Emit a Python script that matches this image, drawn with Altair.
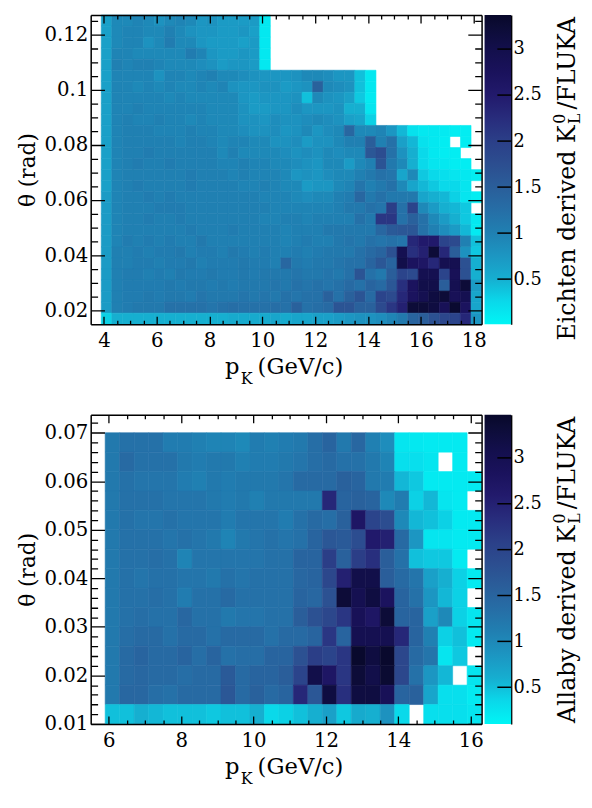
import altair as alt
import pandas as pd

FONT = "DejaVu Serif"

# colour palette (fraction of the z range -> colour)
PAL_FRAC = [0.0, 0.074, 0.148, 0.222, 0.296, 0.37, 0.444, 0.518, 0.592, 0.666, 0.74, 0.814, 0.888, 0.962, 1.0]
PAL_COLORS = ["#00f5f5", "#0ad8ea", "#16aed0", "#1c96c2", "#2080b2", "#266ea6", "#2a5e9a", "#2c4e90",
              "#2b3f88", "#282c7c", "#221a6c", "#1a125c", "#130f4c", "#0c0c36", "#08082a"]

# ---------------- top panel : Eichten derived K0L / FLUKA ----------------
TOP_X_EDGES = [3.9, 4.3, 4.7, 5.1, 5.5, 5.9, 6.3, 6.7, 7.1, 7.5, 7.9, 8.3, 8.7, 9.1, 9.5, 9.9, 10.3, 10.7,
               11.1, 11.5, 11.9, 12.3, 12.7, 13.1, 13.5, 13.9, 14.3, 14.7, 15.1, 15.5, 15.9, 16.3, 16.7,
               17.1, 17.5, 17.9, 18.3]
TOP_TH_EDGES = [0.127, 0.123, 0.119, 0.115, 0.111, 0.107, 0.103, 0.099, 0.095, 0.091, 0.087, 0.083,
                0.079, 0.075, 0.071, 0.067, 0.063, 0.059, 0.055, 0.051, 0.047, 0.043, 0.039, 0.035,
                0.031, 0.027, 0.023, 0.019, 0.015]
N = None
TOP_VALUES = [
    [0.65, 0.9, 0.9, 0.95, 0.9, 0.8, 0.9, 0.95, 0.9, 0.75, 0.8, 0.7, 0.7, 0.7, 0.7, 0.12],
    [0.65, 0.9, 0.95, 0.95, 0.9, 0.9, 1.0, 0.9, 0.8, 0.75, 0.75, 0.7, 0.7, 0.75, 0.65, 0.12],
    [0.65, 0.9, 0.95, 0.95, 0.8, 0.9, 1.05, 0.9, 0.9, 0.75, 0.7, 0.7, 0.7, 0.65, 0.7, 0.12],
    [0.65, 0.95, 0.95, 0.9, 0.9, 0.9, 0.9, 0.9, 1.05, 0.95, 0.75, 0.7, 0.7, 0.75, 0.7, 0.12],
    [0.65, 1.0, 0.95, 1.0, 1.0, 0.95, 0.9, 0.9, 0.9, 0.85, 0.8, 0.7, 0.75, 0.75, 0.7, 0.12],
    [0.65, 0.95, 0.95, 0.95, 0.95, 0.8, 0.95, 0.95, 0.9, 0.95, 1.0, 0.9, 0.9, 0.85, 0.8, 0.75, 0.75, 0.75, 0.8, 0.9, 0.9, 0.85, 0.75, 0.75, 0.4, 0.12],
    [0.65, 0.95, 0.95, 0.9, 0.95, 0.9, 0.95, 0.9, 0.9, 0.95, 0.9, 0.95, 0.8, 0.75, 0.75, 0.8, 0.8, 0.7, 0.75, 0.8, 1.45, 0.9, 0.85, 0.8, 0.4, 0.12],
    [0.65, 0.95, 0.95, 0.95, 0.95, 0.95, 0.9, 0.95, 0.9, 0.9, 0.9, 0.9, 0.9, 0.75, 0.7, 0.75, 0.75, 0.75, 0.8, 0.4, 0.9, 0.8, 0.75, 0.65, 0.35, 0.1],
    [0.65, 0.95, 0.95, 1.0, 0.95, 0.95, 0.95, 0.95, 0.95, 0.95, 0.9, 0.9, 0.9, 0.8, 0.7, 0.7, 0.75, 0.75, 0.85, 0.75, 0.75, 0.75, 0.8, 0.5, 0.5, 0.15],
    [0.65, 0.95, 1.0, 0.95, 0.95, 1.0, 0.95, 0.95, 0.9, 0.95, 0.9, 0.9, 0.9, 0.8, 0.8, 0.75, 0.85, 0.8, 0.8, 0.85, 0.9, 0.85, 0.8, 0.65, 0.6, 0.3],
    [0.65, 0.95, 1.0, 1.0, 1.0, 0.95, 0.95, 0.95, 1.0, 0.95, 0.95, 0.9, 0.9, 0.85, 0.8, 0.8, 0.85, 0.75, 0.8, 0.9, 0.75, 0.85, 0.9, 1.35, 0.9, 0.9, 0.95, 0.75, 0.45, 0.18, 0.12, 0.12, 0.1, 0.08, 0.08, N],
    [0.65, 0.95, 1.0, 1.0, 1.0, 1.0, 1.0, 0.95, 1.0, 1.0, 0.95, 0.9, 0.95, 0.95, 0.9, 0.9, 0.8, 0.8, 0.85, 0.7, 0.8, 0.8, 0.9, 1.0, 1.0, 1.5, 1.0, 1.2, 0.65, 0.45, 0.18, 0.12, 0.08, N, 0.08, N],
    [0.65, 0.95, 1.0, 1.0, 1.05, 1.0, 1.0, 1.0, 1.0, 1.0, 1.0, 0.9, 1.0, 0.9, 0.9, 0.9, 0.9, 0.85, 0.8, 0.85, 0.8, 0.9, 0.85, 0.9, 0.9, 1.6, 1.75, 1.2, 0.8, 0.5, 0.25, 0.12, 0.08, 0.08, N, N],
    [0.65, 0.95, 1.0, 1.05, 1.0, 1.0, 1.05, 1.0, 1.0, 1.0, 1.0, 0.95, 0.95, 1.0, 0.95, 0.95, 0.9, 0.9, 0.85, 0.8, 0.75, 0.9, 0.9, 0.7, 0.9, 1.0, 1.65, 1.1, 0.9, 0.5, 0.25, 0.15, 0.12, 0.08, 0.08, N],
    [0.65, 0.95, 1.0, 1.0, 1.0, 1.0, 1.0, 1.0, 1.05, 1.0, 1.0, 1.0, 0.95, 1.0, 0.95, 0.95, 0.95, 0.9, 0.75, 0.8, 0.75, 0.85, 0.9, 0.9, 1.0, 1.1, 1.2, 1.15, 0.6, 0.9, 0.35, 0.25, 0.2, 0.15, 0.12, 0.08],
    [0.65, 0.95, 1.0, 1.05, 1.0, 1.0, 1.0, 1.0, 1.05, 1.0, 1.0, 1.0, 1.0, 0.95, 0.95, 1.0, 0.95, 0.9, 0.9, 0.7, 0.75, 0.75, 0.9, 0.95, 1.15, 1.0, 1.1, 1.2, 0.9, 0.6, 0.45, 0.35, 0.25, 0.25, 0.15, N],
    [0.7, 0.95, 1.0, 1.0, 1.05, 1.0, 1.05, 1.0, 1.0, 1.0, 1.0, 1.0, 1.0, 1.0, 1.0, 0.95, 0.95, 0.95, 0.9, 0.85, 0.9, 0.9, 1.0, 1.05, 1.35, 1.1, 1.2, 1.1, 1.1, 1.1, 0.6, 0.5, 0.45, 0.3, 0.15, 0.08],
    [0.7, 0.95, 1.0, 1.0, 1.0, 1.05, 1.05, 1.05, 1.0, 1.0, 1.0, 1.0, 1.0, 1.0, 1.0, 1.0, 0.95, 0.95, 0.95, 0.95, 0.95, 0.95, 1.0, 1.1, 1.1, 1.2, 1.15, 2.0, 1.2, 1.9, 0.9, 0.7, 0.5, 0.45, 0.35, N],
    [0.7, 0.95, 1.0, 1.0, 1.05, 1.0, 1.0, 1.05, 1.0, 1.0, 1.0, 1.0, 1.0, 1.0, 1.0, 0.95, 0.95, 1.0, 1.0, 0.95, 1.0, 1.0, 1.0, 1.0, 1.2, 1.1, 2.1, 2.1, 1.2, 1.45, 1.2, 0.9, 0.7, 0.5, 0.35, 0.12],
    [0.7, 0.95, 1.0, 1.0, 1.0, 1.0, 1.0, 1.0, 1.05, 1.0, 1.0, 1.0, 1.05, 1.0, 1.0, 1.0, 1.0, 0.95, 1.0, 1.0, 1.0, 1.1, 1.1, 1.1, 1.1, 1.1, 1.35, 1.55, 1.6, 1.6, 1.2, 1.0, 0.85, 0.7, 0.45, 0.1],
    [0.7, 0.95, 1.05, 1.0, 1.05, 1.0, 1.05, 1.0, 1.0, 1.1, 1.0, 1.0, 1.0, 1.0, 1.0, 1.0, 1.0, 0.95, 1.0, 1.05, 1.0, 1.0, 1.1, 1.15, 1.1, 1.2, 1.15, 1.2, 1.15, 2.3, 2.5, 2.5, 1.9, 1.8, 1.0, 0.4],
    [0.7, 1.0, 1.0, 1.05, 1.0, 1.05, 1.05, 1.1, 1.0, 1.05, 1.05, 1.0, 1.1, 1.05, 1.0, 1.05, 1.0, 1.0, 1.05, 1.0, 1.05, 1.1, 1.1, 1.1, 1.2, 1.3, 1.4, 1.7, 2.9, 2.2, 2.4, 3.2, 2.3, 1.5, 0.8, 0.35],
    [0.7, 1.0, 1.0, 1.05, 1.05, 1.0, 1.05, 1.05, 1.1, 1.0, 1.05, 1.05, 1.05, 1.1, 1.05, 1.05, 1.0, 1.35, 1.1, 1.05, 1.1, 1.1, 1.15, 1.2, 1.2, 1.4, 1.6, 1.4, 3.0, 2.7, 2.6, 2.3, 2.9, 2.9, 1.7, 0.5],
    [0.7, 1.0, 1.05, 1.05, 1.0, 1.05, 1.0, 1.1, 1.05, 1.05, 1.1, 1.05, 1.05, 1.1, 1.05, 1.1, 1.1, 1.1, 1.15, 1.1, 1.1, 1.15, 1.1, 1.2, 1.65, 1.2, 1.1, 1.5, 1.9, 1.8, 2.9, 2.9, 1.9, 2.8, 1.7, 0.5],
    [0.7, 1.0, 1.05, 1.05, 1.05, 1.05, 1.1, 1.05, 1.1, 1.1, 1.05, 1.1, 1.05, 1.1, 1.1, 1.1, 1.15, 1.1, 1.2, 1.15, 1.2, 1.15, 1.2, 1.3, 1.2, 1.4, 1.3, 1.6, 2.2, 2.7, 3.0, 3.0, 1.5, 2.9, 3.2, 0.7],
    [0.7, 1.0, 1.05, 1.05, 1.1, 1.05, 1.1, 1.1, 1.05, 1.15, 1.1, 1.1, 1.1, 1.15, 1.1, 1.15, 1.1, 1.2, 1.15, 1.2, 1.2, 1.45, 1.2, 1.45, 1.65, 1.3, 1.9, 1.8, 2.3, 2.7, 2.9, 3.1, 3.2, 2.8, 2.9, 0.6],
    [0.7, 1.0, 1.05, 1.1, 1.1, 1.1, 1.2, 1.2, 1.2, 1.2, 1.15, 1.2, 1.25, 1.2, 1.2, 1.2, 1.25, 1.2, 1.45, 1.2, 1.25, 1.3, 1.65, 1.65, 1.45, 1.45, 1.8, 2.1, 2.4, 3.2, 3.2, 3.1, 2.8, 3.35, 2.7, 0.6],
    [0.3, 0.5, 0.5, 0.5, 0.5, 0.5, 0.5, 0.5, 0.5, 0.5, 0.5, 0.5, 0.55, 0.55, 0.55, 0.55, 0.6, 0.55, 0.6, 0.6, 0.65, 0.65, 0.7, 0.75, 0.8, 0.8, 0.85, 0.95, 1.1, 1.4, 1.5, 1.7, 1.85, 1.9, 2.3, 0.75],
]
TOP_X_DOMAIN = [3.5, 18.3]
TOP_Y_DOMAIN = [0.015, 0.127]
TOP_Z_RANGE = [0.01, 3.37]
TOP_X_MAJOR = [4, 6, 8, 10, 12, 14, 16, 18]
TOP_X_MINOR = [4.5, 5, 5.5, 6.5, 7, 7.5, 8.5, 9, 9.5, 10.5, 11, 11.5, 12.5, 13, 13.5, 14.5, 15, 15.5,
               16.5, 17, 17.5]
TOP_Y_MAJOR = [0.02, 0.04, 0.06, 0.08, 0.1, 0.12]
TOP_Y_MINOR = [0.025, 0.03, 0.035, 0.045, 0.05, 0.055, 0.065, 0.07, 0.075, 0.085, 0.09, 0.095,
               0.105, 0.11, 0.115, 0.125]

# ---------------- bottom panel : Allaby derived K0L / FLUKA ----------------
BOT_X_EDGES = [5.9, 6.3, 6.7, 7.1, 7.5, 7.9, 8.3, 8.7, 9.1, 9.5, 9.9, 10.3, 10.7, 11.1, 11.5, 11.9,
               12.3, 12.7, 13.1, 13.5, 13.9, 14.3, 14.7, 15.1, 15.5, 15.9, 16.3]
BOT_TH_EDGES = [0.070, 0.066, 0.062, 0.058, 0.054, 0.050, 0.046, 0.042, 0.038, 0.034, 0.030, 0.026,
                0.022, 0.018, 0.014, 0.010]
BOT_VALUES = [
    [1.1, 1.2, 1.2, 1.2, 1.05, 1.05, 1.0, 0.95, 0.95, 0.9, 1.05, 1.0, 1.05, 1.1, 1.25, 1.4, 1.1, 1.35, 1.0, 0.85, 0.15, 0.12, 0.1, 0.1, 0.1, N],
    [1.1, 1.3, 1.2, 1.2, 1.2, 1.1, 1.05, 1.1, 1.1, 1.0, 1.05, 1.05, 1.1, 1.15, 1.25, 1.3, 1.2, 1.2, 1.1, 0.95, 0.2, 0.2, 0.15, N, 0.1, N],
    [1.1, 1.2, 1.15, 1.15, 1.15, 1.05, 1.0, 1.1, 1.05, 1.1, 1.1, 1.1, 1.15, 1.3, 1.3, 1.3, 1.45, 1.4, 1.1, 1.05, 0.45, 0.35, 0.1, 0.1, 0.1, 0.1],
    [1.1, 1.2, 1.2, 1.2, 1.15, 1.15, 1.15, 1.1, 1.05, 1.1, 1.0, 1.1, 1.1, 1.1, 1.1, 2.3, 1.4, 1.45, 1.4, 0.9, 1.05, 0.3, 0.45, 0.15, 0.1, N],
    [1.1, 1.2, 1.15, 1.15, 1.2, 1.15, 1.15, 1.15, 1.05, 1.15, 1.15, 1.15, 1.05, 1.2, 1.3, 1.25, 1.45, 2.6, 1.9, 1.75, 0.9, 0.45, 0.4, 0.3, 0.1, 0.1],
    [1.1, 1.2, 1.2, 1.2, 1.15, 1.2, 1.15, 1.1, 0.95, 1.1, 1.15, 1.2, 1.15, 1.2, 1.4, 1.6, 1.55, 1.75, 2.5, 2.4, 1.3, 0.75, 0.15, 0.15, 0.1, 0.1],
    [1.1, 1.2, 1.2, 1.25, 1.2, 0.95, 1.15, 1.15, 1.15, 1.15, 1.15, 1.2, 1.2, 1.4, 1.4, 2.0, 1.45, 2.0, 2.2, 1.5, 1.2, 0.4, 0.35, 0.35, 0.1, N],
    [1.1, 1.2, 1.15, 1.2, 1.2, 1.15, 1.15, 1.1, 1.2, 1.15, 1.2, 1.2, 1.2, 1.35, 1.4, 1.85, 2.4, 3.0, 3.0, 1.5, 1.3, 1.15, 0.65, 0.5, 0.3, 0.1],
    [1.1, 1.2, 1.2, 1.25, 1.2, 1.05, 1.2, 1.2, 1.3, 1.2, 1.2, 1.2, 1.2, 1.4, 1.35, 1.7, 3.2, 2.9, 3.1, 2.7, 1.4, 1.2, 0.75, 0.45, 0.3, N],
    [1.1, 1.2, 1.25, 1.2, 1.2, 1.35, 1.2, 1.2, 1.1, 1.15, 1.15, 1.2, 1.2, 1.5, 1.7, 1.85, 2.1, 2.8, 2.6, 3.2, 1.4, 1.4, 0.65, 0.9, 0.3, 0.15],
    [1.1, 1.25, 1.3, 1.3, 1.2, 1.3, 1.3, 1.2, 1.3, 1.3, 1.3, 1.2, 1.3, 1.3, 1.4, 2.1, 1.4, 2.9, 2.9, 2.9, 2.3, 1.4, 1.0, 0.3, 0.4, 0.1],
    [1.1, 1.3, 1.4, 1.3, 1.3, 1.4, 1.25, 1.4, 1.2, 1.25, 1.25, 1.4, 1.4, 1.7, 2.0, 1.9, 2.1, 3.4, 3.1, 3.4, 1.85, 1.3, 1.15, 0.15, 0.35, N],
    [1.1, 1.3, 1.35, 1.3, 1.3, 1.25, 1.3, 1.3, 1.55, 1.3, 1.4, 1.4, 1.5, 1.9, 3.0, 2.6, 2.1, 3.2, 3.0, 3.3, 1.85, 1.2, 0.75, 0.45, N, 0.15],
    [1.1, 1.35, 1.35, 1.25, 1.2, 1.3, 1.3, 1.3, 1.6, 1.3, 1.45, 1.3, 1.4, 2.3, 1.6, 3.1, 2.2, 3.1, 3.1, 2.8, 1.4, 1.45, 0.6, 0.2, 0.2, 0.1],
    [0.4, 0.4, 0.5, 0.45, 0.4, 0.4, 0.4, 0.35, 0.4, 0.4, 0.5, 0.25, 0.3, 0.4, 0.5, 0.65, 0.35, 0.55, 0.5, 0.8, 0.25, N, 0.2, 0.2, 0.2, 0.15],
]
BOT_X_DOMAIN = [5.5, 16.3]
BOT_Y_DOMAIN = [0.01, 0.0737]
BOT_Z_RANGE = [0.1, 3.47]
BOT_X_MAJOR = [6, 8, 10, 12, 14, 16]
BOT_X_MINOR = [6.5, 7, 7.5, 8.5, 9, 9.5, 10.5, 11, 11.5, 12.5, 13, 13.5, 14.5, 15, 15.5]
BOT_Y_MAJOR = [0.01, 0.02, 0.03, 0.04, 0.05, 0.06, 0.07]
BOT_Y_MINOR = [0.012, 0.014, 0.016, 0.018, 0.022, 0.024, 0.026, 0.028, 0.032, 0.034, 0.036, 0.038,
               0.042, 0.044, 0.046, 0.048, 0.052, 0.054, 0.056, 0.058, 0.062, 0.064, 0.066, 0.068,
               0.072]
Z_TICKS = [0.5, 1, 1.5, 2, 2.5, 3]

LABEL_EXPR = "format(datum.value, '~g')"


def text_layer(s, x, y, size, align="left", angle=0):
    return alt.Chart(pd.DataFrame({"s": [s]})).mark_text(
        align=align, baseline="alphabetic", angle=angle, font=FONT, fontSize=size, color="black"
    ).encode(x=alt.value(x), y=alt.value(y), text="s:N")


def panel(x_edges, th_edges, values, xdom, ydom, W, H, xmaj, xmin, ymaj, ymin, zrange, lead):
    recs = []
    for r, row in enumerate(values):
        for k, v in enumerate(row):
            if v is None or k + 1 >= len(x_edges):
                continue
            recs.append({"x1": x_edges[k], "x2": x_edges[k + 1],
                         "y1": th_edges[r + 1], "y2": th_edges[r], "v": v})
    df = pd.DataFrame(recs)
    zlo, zhi = zrange
    zdom = [zlo + f * (zhi - zlo) for f in PAL_FRAC]
    zscale = alt.Scale(type="linear", domain=zdom, range=PAL_COLORS, interpolate="rgb", clamp=True)
    xs = alt.Scale(domain=xdom, nice=False, zero=False)
    ys = alt.Scale(domain=ydom, nice=False, zero=False)
    ax = dict(domainColor="black", domainWidth=1.5, gridColor="black", gridWidth=1.3, gridOpacity=1,
              ticks=False, zindex=1, labelFont=FONT, labelColor="black", labelFlush=False,
              labelOverlap=False, labelBound=False)

    heat = alt.Chart(df).mark_rect(strokeWidth=0.6).encode(
        x=alt.X("x1:Q", scale=xs, axis=alt.Axis(orient="bottom", values=xmaj, title=None, grid=True,
                                                 gridDash=[8, H - 16, 8, 0], labelFontSize=20,
                                                 labelPadding=7, labelExpr=LABEL_EXPR, **ax)),
        x2="x2:Q",
        y=alt.Y("y1:Q", scale=ys, axis=alt.Axis(orient="left", values=ymaj, title="θ (rad)",
                                                 titleFont=FONT, titleFontSize=22,
                                                 titleFontWeight="normal", titleColor="black",
                                                 titlePadding=5, grid=True,
                                                 gridDash=[14, W - 28, 14, 0], labelFontSize=20,
                                                 labelPadding=3, labelExpr=LABEL_EXPR, **ax)),
        y2="y2:Q",
        color=alt.Color("v:Q", scale=zscale, legend=None),
        stroke=alt.Stroke("v:Q", scale=zscale, legend=None),
    )
    minor = alt.Chart(df).mark_rect(opacity=0).encode(
        x=alt.X("x1:Q", scale=xs, axis=alt.Axis(orient="top", values=xmin, title=None, labels=False,
                                                 grid=True, gridDash=[4, H - 8, 4, 0], **ax)),
        x2="x2:Q",
        y=alt.Y("y1:Q", scale=ys, axis=alt.Axis(orient="right", values=ymin, title=None, labels=False,
                                                 grid=True, gridDash=[7, W - 14, 7, 0], **ax)),
        y2="y2:Q",
    )

    # colour bar
    cs = alt.Scale(domain=[zlo, zhi], nice=False, zero=False)
    grad = alt.Gradient(gradient="linear",
                        stops=[alt.GradientStop(offset=f, color=c) for f, c in zip(PAL_FRAC, PAL_COLORS)],
                        x1=0, x2=0, y1=1, y2=0)
    bar = alt.Chart(pd.DataFrame({"lo": [zlo], "hi": [zhi]})).mark_rect(fill=grad).encode(
        x=alt.value(W + 3), x2=alt.value(W + 30),
        y=alt.Y("lo:Q", scale=cs, axis=alt.Axis(orient="right", offset=30, values=Z_TICKS, title=None,
                                                 grid=False, ticks=False, domain=True,
                                                 domainColor="black", domainWidth=1.5,
                                                 labelFont=FONT, labelFontSize=18, labelPadding=2,
                                                 labelColor="black", labelExpr=LABEL_EXPR,
                                                 labelFlush=False, labelOverlap=False,
                                                 labelBound=False)),
        y2="hi:Q",
    )
    zt = alt.Chart(pd.DataFrame({"t": Z_TICKS})).mark_rule(color="black", strokeWidth=1.5).encode(
        y=alt.Y("t:Q", scale=cs, axis=None), x=alt.value(W + 16), x2=alt.value(W + 30)
    )

    # colour-bar title, right-adjusted to the top of the bar
    fs = 24
    w_tail = 4.09 * fs
    xb = W + 95
    t_tail = text_layer("/FLUKA", xb, 2, fs, align="right", angle=270)
    t_sup = text_layer("0", xb - 10, 2 + w_tail, 16, align="right", angle=270)
    t_sub = text_layer("L", xb + 5, 2 + w_tail, 16, align="right", angle=270)
    t_lead = text_layer(lead + " K", xb, 2 + w_tail + 12, fs, align="right", angle=270)

    # x-axis title  p_K (GeV/c)
    xt1 = text_layer("p", W / 2 - 62, H + 51, 23)
    xt2 = text_layer("K", W / 2 - 46, H + 61, 16)
    xt3 = text_layer("(GeV/c)", W / 2 - 29, H + 51, 23)

    return alt.layer(heat, minor, bar, zt, t_tail, t_sup, t_sub, t_lead, xt1, xt2, xt3).resolve_scale(
        y="independent"
    ).resolve_axis(x="independent", y="independent").properties(width=W, height=H)


top = panel(TOP_X_EDGES, TOP_TH_EDGES, TOP_VALUES, TOP_X_DOMAIN, TOP_Y_DOMAIN, 397, 314,
            TOP_X_MAJOR, TOP_X_MINOR, TOP_Y_MAJOR, TOP_Y_MINOR, TOP_Z_RANGE, "Eichten derived")
bot = panel(BOT_X_EDGES, BOT_TH_EDGES, BOT_VALUES, BOT_X_DOMAIN, BOT_Y_DOMAIN, 397, 314,
            BOT_X_MAJOR, BOT_X_MINOR, BOT_Y_MAJOR, BOT_Y_MINOR, BOT_Z_RANGE, "Allaby derived")

chart = alt.vconcat(top, bot, spacing=26).properties(
    padding={"left": 7, "top": 0, "right": 0, "bottom": 0}
).configure_view(strokeWidth=0).configure(background="white")

chart.save("out.html", embed_options={"renderer": "svg", "actions": False})
